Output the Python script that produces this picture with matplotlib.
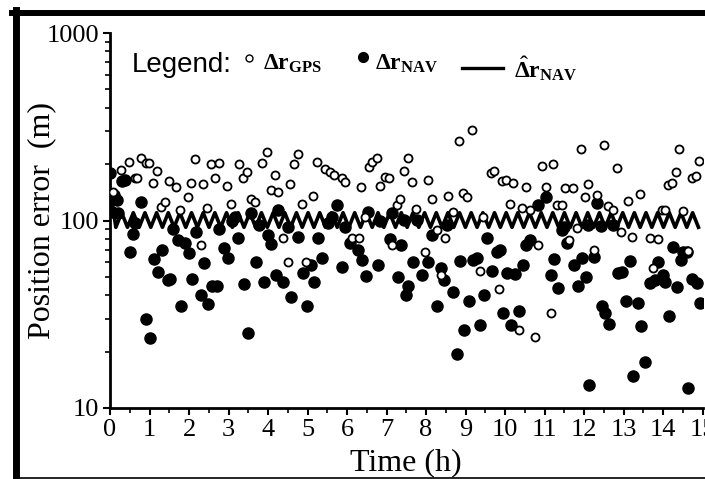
import matplotlib
matplotlib.use("Agg")
import matplotlib.pyplot as plt
from matplotlib.lines import Line2D
from matplotlib.ticker import LogLocator, NullFormatter, MultipleLocator
import numpy as np

plt.rcParams['mathtext.fontset'] = 'custom'
plt.rcParams['mathtext.rm'] = 'Liberation Serif'
plt.rcParams['mathtext.bf'] = 'Liberation Serif:bold'
plt.rcParams['mathtext.it'] = 'Liberation Serif:italic'

# GPS position error (open circles)
gps_t = [0.08, 0.28, 0.48, 0.63, 0.68, 0.78, 0.91, 0.99, 1.09, 1.19,
         1.29, 1.39, 1.49, 1.67, 1.77, 1.97, 2.05, 2.15, 2.30, 2.35,
         2.46, 2.56, 2.66, 2.76, 2.96, 3.06, 3.27, 3.37, 3.47, 3.57,
         3.67, 3.85, 3.97, 4.08, 4.18, 4.25, 4.38, 4.51, 4.56, 4.66,
         4.76, 4.86, 4.96, 5.14, 5.24, 5.44, 5.57, 5.67, 5.87, 5.95,
         6.13, 6.30, 6.35, 6.46, 6.56, 6.63, 6.76, 6.84, 6.96, 7.06,
         7.14, 7.27, 7.34, 7.44, 7.54, 7.65, 7.75, 7.97, 8.05, 8.15,
         8.28, 8.38, 8.48, 8.56, 8.68, 8.84, 8.94, 9.04, 9.16, 9.37,
         9.44, 9.65, 9.72, 9.85, 9.92, 10.03, 10.13, 10.20, 10.35, 10.43,
         10.53, 10.63, 10.76, 10.84, 10.94, 11.04, 11.16, 11.22, 11.32, 11.44,
         11.52, 11.62, 11.72, 11.82, 11.92, 12.03, 12.10, 12.25, 12.33, 12.51,
         12.61, 12.73, 12.84, 12.94, 13.11, 13.22, 13.42, 13.67, 13.75, 13.87,
         13.97, 14.05, 14.13, 14.23, 14.33, 14.41, 14.51, 14.63, 14.73, 14.84,
         14.91]
gps_err = [142, 186, 205, 168, 168, 215, 203, 203, 158, 184,
           118, 125, 162, 150, 114, 133, 158, 212, 74, 156,
           117, 200, 168, 203, 153, 123, 200, 168, 181, 130,
           125, 203, 232, 145, 175, 142, 81, 60, 156, 200,
           226, 123, 60, 135, 205, 188, 181, 175, 168, 160,
           81, 81, 150, 104, 193, 205, 215, 153, 171, 168,
           74, 121, 130, 184, 215, 160, 115, 68, 164, 131,
           89, 51, 81, 135, 111, 265, 140, 133, 304, 54,
           104, 179, 184, 43, 162, 164, 123, 158, 26, 117,
           150, 114, 24, 74, 195, 150, 32, 200, 121, 121,
           149, 79, 149, 91, 240, 133, 156, 70, 137, 253,
           120, 114, 190, 87, 127, 82, 139, 81, 56, 80,
           114, 114, 155, 158, 182, 240, 112, 69, 168, 173,
           208]

# navigation solution error (filled circles)
nav_t = [0.00, 0.05, 0.10, 0.18, 0.20, 0.30, 0.38, 0.51, 0.58, 0.63,
         0.78, 0.91, 1.01, 1.11, 1.22, 1.32, 1.47, 1.52, 1.60, 1.72,
         1.80, 1.90, 2.00, 2.08, 2.18, 2.30, 2.38, 2.48, 2.58, 2.71,
         2.76, 2.89, 2.99, 3.09, 3.16, 3.24, 3.39, 3.49, 3.57, 3.70,
         3.77, 3.90, 4.00, 4.08, 4.20, 4.25, 4.38, 4.51, 4.58, 4.76,
         4.89, 4.99, 5.09, 5.16, 5.27, 5.37, 5.52, 5.62, 5.75, 5.87,
         5.95, 6.08, 6.28, 6.38, 6.48, 6.53, 6.78, 6.84, 7.09, 7.14,
         7.29, 7.37, 7.44, 7.50, 7.54, 7.67, 7.77, 7.90, 8.05, 8.15,
         8.28, 8.38, 8.46, 8.53, 8.68, 8.78, 8.86, 8.96, 9.09, 9.19,
         9.29, 9.37, 9.47, 9.54, 9.67, 9.80, 9.87, 9.95, 10.05, 10.15,
         10.25, 10.35, 10.46, 10.53, 10.63, 10.84, 11.04, 11.16, 11.24, 11.34,
         11.44, 11.49, 11.57, 11.75, 11.85, 11.95, 12.05, 12.10, 12.13, 12.25,
         12.33, 12.44, 12.46, 12.53, 12.63, 12.73, 12.86, 12.96, 13.06, 13.16,
         13.24, 13.37, 13.44, 13.54, 13.67, 13.80, 13.87, 14.00, 14.05, 14.15,
         14.25, 14.35, 14.46, 14.51, 14.61, 14.63, 14.73, 14.86, 14.94]
nav_err = [179, 111, 137, 128, 109, 162, 164, 68, 85, 97,
           125, 30, 23.6, 62, 53, 70, 48, 49, 90, 79,
           35, 76, 67, 49, 87, 40, 59, 36, 45, 45,
           90, 71, 63, 99, 104, 81, 46, 25, 109, 60,
           95, 47, 84, 75, 51, 114, 47, 92, 39, 82,
           52.5, 35, 58, 47, 81, 63, 97, 104, 121, 56.5,
           92, 76, 70, 61.5, 50.5, 111, 58, 99, 80, 109,
           50, 74, 101, 40, 45, 60, 101, 51, 60, 84,
           35, 56, 48, 95, 41.6, 19.4, 61, 26, 37, 61.5,
           63, 27.7, 40, 81, 54, 68, 70, 32, 52.5, 27.7,
           52, 33, 58, 74, 79, 121, 133, 51, 62, 43.5,
           89, 92, 76, 58, 45, 63, 50, 95, 13.3, 64,
           124, 94, 35, 32, 28, 95, 52.5, 53, 37, 61,
           14.8, 36.5, 27.5, 17.6, 46.5, 48, 60, 51, 47, 31,
           72, 44, 61.5, 68, 68, 12.8, 49, 46.5, 36.5]

# estimated error (zig-zag line), sampled every est_dt hours
est_dt = 0.1475
est_err = [150, 92, 110, 92, 110, 92, 110, 92, 110, 92, 110, 92,
           110, 92, 110, 92, 110, 92, 110, 92, 110, 92, 110, 92,
           110, 92, 110, 92, 110, 92, 110, 92, 110, 92, 110, 92,
           110, 92, 110, 92, 110, 92, 110, 92, 110, 92, 110, 92,
           110, 92, 110, 92, 110, 92, 110, 92, 110, 92, 110, 92,
           110, 92, 110, 92, 110, 92, 110, 92, 110, 92, 110, 92,
           110, 92, 110, 92, 110, 92, 110, 92, 110, 92, 110, 92,
           110, 92, 110, 92, 110, 92, 110, 92, 110, 92, 110, 92,
           110, 92, 110, 92, 110, 92]
est_t = np.arange(len(est_err)) * est_dt

serif = 'Liberation Serif'

fig = plt.figure(figsize=(7.05, 4.79), dpi=100)
ax = fig.add_axes([110 / 705, 1 - 408 / 479, 592.5 / 705, 375 / 479])

ax.plot(est_t, est_err, color='black', lw=2.6, zorder=2)
ax.plot(nav_t, nav_err, 'o', ms=8, color='black', zorder=3)
ax.plot(gps_t, gps_err, 'o', ms=5.8, mfc='white', mec='black', mew=1.3, zorder=4)

ax.set_yscale('log')
ax.set_ylim(10, 1000)
ax.set_xlim(0, 15)
ax.xaxis.set_major_locator(MultipleLocator(1))
ax.xaxis.set_minor_locator(MultipleLocator(0.5))
ax.yaxis.set_major_locator(LogLocator(base=10))
ax.yaxis.set_minor_locator(LogLocator(base=10, subs=np.arange(2, 10)))
ax.yaxis.set_minor_formatter(NullFormatter())
ax.set_yticks([10, 100, 1000])
ax.set_yticklabels(['10', '100', '1000'])

for s in ['top', 'right']:
    ax.spines[s].set_visible(False)
for s in ['left', 'bottom']:
    ax.spines[s].set_linewidth(2)

ax.tick_params(which='major', direction='out', length=5, width=1.5, pad=3,
               labelsize=19)
ax.tick_params(which='minor', direction='out', length=3.5, width=1.2)
for lbl in ax.get_xticklabels() + ax.get_yticklabels():
    lbl.set_family(serif)

ax.set_ylabel('Position error  (m)', family=serif, fontsize=23, va='center')
ax.yaxis.set_label_coords(-0.115, 0.5)
ax.set_xlabel('Time (h)', family=serif, fontsize=23, va='center')
ax.xaxis.set_label_coords(0.5, -0.145)

# legend row drawn by hand
fig.text(132 / 705, 1 - 72 / 479, 'Legend:', family='Liberation Sans',
         fontsize=20, va='baseline')
fig.add_artist(Line2D([249 / 705], [1 - 58 / 479], transform=fig.transFigure,
                      marker='o', ms=5, mfc='white', mec='black', mew=1))
fig.text(263 / 705, 1 - 70 / 479, r'$\mathbf{\Delta r}_{\mathbf{GPS}}$',
         fontsize=17, va='baseline')
fig.add_artist(Line2D([363 / 705], [1 - 57 / 479], transform=fig.transFigure,
                      marker='o', ms=7, color='black'))
fig.text(375 / 705, 1 - 70 / 479, r'$\mathbf{\Delta r}_{\mathbf{NAV}}$',
         fontsize=17, va='baseline')
fig.add_artist(Line2D([462 / 705, 503 / 705], [1 - 68 / 479, 1 - 68 / 479],
                      transform=fig.transFigure, color='black', lw=2.4))
fig.text(514 / 705, 1 - 78 / 479, r'$\hat{\mathbf{\Delta}}\mathbf{r}_{\mathbf{NAV}}$',
         fontsize=17, va='baseline')

# scanned page frame
fig.add_artist(Line2D([15.5 / 705, 15.5 / 705], [1 - 10 / 479, 0],
                      transform=fig.transFigure, color='black', lw=5))
fig.add_artist(Line2D([12 / 705, 1], [1 - 13 / 479, 1 - 13 / 479],
                      transform=fig.transFigure, color='black', lw=4.3))
fig.add_artist(Line2D([19 / 705, 1], [1 - 477.5 / 479, 1 - 477.5 / 479],
                      transform=fig.transFigure, color='black', lw=1.2))

fig.savefig('out.png', dpi=100)
